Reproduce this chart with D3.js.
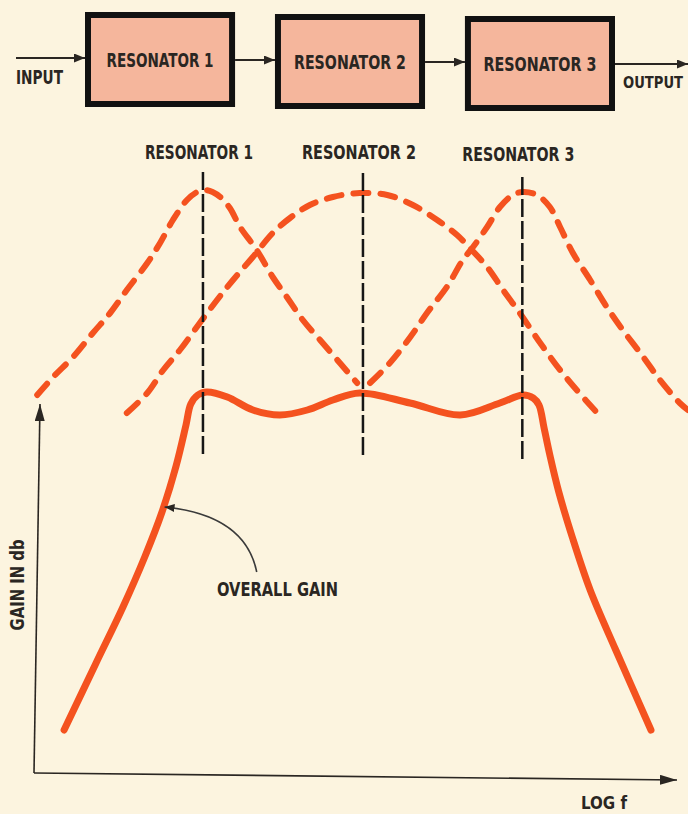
<!DOCTYPE html>
<html>
<head>
<meta charset="utf-8">
<script src="https://cdn.jsdelivr.net/npm/d3@7"></script>
<style>
  html, body { margin: 0; padding: 0; background: #fcf4df; }
  svg { display: block; }
  text { font-family: "Liberation Sans Narrow", "DejaVu Sans Condensed", "Roboto Condensed", "Liberation Sans", sans-serif; font-weight: bold; fill: #2a2622; }
</style>
</head>
<body>
<svg id="chart" width="688" height="814"></svg>
<script>
// ---------- data ----------
const blockNames = ["RESONATOR 1", "RESONATOR 2", "RESONATOR 3"];
const resonatorLabels = ["RESONATOR 1", "RESONATOR 2", "RESONATOR 3"];
const resonanceLogF = [26.4, 51.4, 76.3];
const guideTopGain = [60.1, 60.0, 59.6];
const guideBottomGain = [31.5, 31.8, 31.1];

const res1LogF = [0.5, 3.0, 6.1, 9.2, 11.9, 14.5, 17.7, 19.7, 21.7, 23.9, 25.5, 26.7, 27.9, 29.1, 30.6, 32.2, 34.8, 37.3, 39.5, 42.0, 44.7, 47.8, 50.5];
const res1Gain = [37.8, 39.6, 41.6, 44.0, 46.0, 48.3, 51.0, 53.0, 55.3, 57.3, 58.1, 58.3, 58.1, 57.6, 56.5, 54.6, 52.3, 49.6, 47.6, 45.3, 43.3, 41.0, 39.0];

const res2LogF = [14.5, 17.7, 20.2, 22.8, 25.9, 28.6, 31.1, 34.2, 37.3, 40.0, 43.1, 46.7, 50.9, 55.2, 59.2, 63.0, 66.1, 68.1, 70.8, 73.3, 75.9, 79.1, 82.2, 84.8, 88.0];
const res2Gain = [36.0, 38.0, 40.3, 42.3, 45.0, 47.3, 49.3, 51.6, 54.0, 55.5, 56.8, 57.6, 58.0, 57.8, 56.8, 55.3, 53.8, 52.5, 50.6, 48.3, 46.0, 43.0, 40.3, 38.3, 36.0];

const res3LogF = [52.5, 55.6, 58.8, 61.4, 64.5, 67.0, 68.6, 70.8, 72.8, 74.8, 76.4, 78.6, 80.6, 82.2, 84.2, 86.9, 89.5, 92.0, 95.2, 97.8, 100.9, 102.2];
const res3Gain = [39.0, 41.0, 43.6, 46.0, 48.6, 51.3, 52.6, 54.6, 56.6, 57.8, 58.1, 57.8, 56.6, 54.6, 52.0, 49.3, 46.6, 44.3, 41.6, 39.3, 37.0, 36.3];

const overallLogF = [4.7, 9.7, 13.9, 17.3, 20.0, 22.2, 23.75, 24.5, 25.6, 27.0, 30.2, 34.2, 38.4, 42.7, 46.7, 50.9, 58.75, 66.6, 72.8, 76.4, 78.0, 78.9, 79.7, 80.6, 82.0, 84.1, 86.9, 90.9, 96.4];
const overallGain = [4.3, 11.0, 16.6, 21.6, 26.1, 30.7, 34.8, 36.9, 37.8, 38.1, 37.6, 36.3, 35.8, 36.3, 37.3, 38.0, 37.0, 35.8, 37.0, 37.8, 37.5, 36.8, 34.5, 31.8, 28.1, 23.6, 18.3, 12.3, 4.3];

// ---------- setup ----------
const svg = d3.select("#chart");
const W = 688, H = 814;
const orange = "#f4521f";
const ink = "#2a2622";

svg.append("rect").attr("width", W).attr("height", H).attr("fill", "#fcf4df");

const x = d3.scaleLinear().domain([0, 100]).range([34, 674]);
const y = d3.scaleLinear().domain([0, 60]).range([773, 173]);

const defs = svg.append("defs");
function marker(id, len, wid) {
  defs.append("marker")
    .attr("id", id)
    .attr("markerUnits", "userSpaceOnUse")
    .attr("viewBox", `0 ${-wid / 2} ${len} ${wid}`)
    .attr("refX", len).attr("refY", 0)
    .attr("markerWidth", len).attr("markerHeight", wid)
    .attr("orient", "auto")
    .append("path")
    .attr("d", `M0,${-wid / 2}L${len},0L0,${wid / 2}Z`)
    .attr("fill", ink);
}
marker("arrSmall", 11, 9);
marker("arrAxis", 17, 10);
marker("arrNote", 10, 8);

// ---------- block diagram ----------
const band = d3.scaleBand().domain(blockNames).range([85, 615]).paddingInner(0.21);
const bw = band.bandwidth();
const boxTop = i => 12 + 2 * i;
const boxH = 95;
const sw = 6;
const boxLabelLen = [107, 112, 113];

const blocks = svg.append("g");
blockNames.forEach((name, i) => {
  blocks.append("rect")
    .attr("x", band(name) + sw / 2).attr("y", boxTop(i) + sw / 2)
    .attr("width", bw - sw).attr("height", boxH - sw)
    .attr("fill", "#f5b69c").attr("stroke", "#111").attr("stroke-width", sw);
  blocks.append("text")
    .attr("x", band(name) + bw / 2).attr("y", boxTop(i) + boxH / 2 + 7.5)
    .attr("text-anchor", "middle")
    .attr("font-size", 19)
    .attr("textLength", boxLabelLen[i]).attr("lengthAdjust", "spacingAndGlyphs")
    .text(name);
});

// connectors
const conn = [
  [16, 85, 58],
  [band(blockNames[0]) + bw, band(blockNames[1]), 60],
  [band(blockNames[1]) + bw, band(blockNames[2]), 62],
  [band(blockNames[2]) + bw, 688, 64]
];
conn.forEach(([x1, x2, yy]) => {
  blocks.append("line")
    .attr("x1", x1).attr("x2", x2).attr("y1", yy).attr("y2", yy)
    .attr("stroke", ink).attr("stroke-width", 2)
    .attr("marker-end", "url(#arrSmall)");
});
blocks.append("text").attr("x", 16).attr("y", 84).attr("font-size", 19)
  .attr("textLength", 47).attr("lengthAdjust", "spacingAndGlyphs").text("INPUT");
blocks.append("text").attr("x", 623).attr("y", 88).attr("font-size", 16)
  .attr("textLength", 60).attr("lengthAdjust", "spacingAndGlyphs").text("OUTPUT");

// ---------- chart ----------
const line = d3.line().x(d => x(d[0])).y(d => y(d[1])).curve(d3.curveCatmullRom.alpha(0.5));
const zip = (a, b) => a.map((v, i) => [v, b[i]]);

// axes (slightly skewed as in the print)
const axisG = svg.append("g");
axisG.append("path")
  .attr("d", d3.line()([[x(0), y(0)], [x(0) + 6, y(36.9)]]))
  .attr("stroke", ink).attr("stroke-width", 1.6).attr("fill", "none")
  .attr("marker-end", "url(#arrAxis)");
axisG.append("path")
  .attr("d", d3.line()([[x(0), y(0)], [x(100) + 3, y(0) + 7]]))
  .attr("stroke", ink).attr("stroke-width", 1.6).attr("fill", "none")
  .attr("marker-end", "url(#arrAxis)");

// resonator individual responses (dashed)
const dashG = svg.append("g");
[[res1LogF, res1Gain], [res2LogF, res2Gain], [res3LogF, res3Gain]].forEach(([a, b]) => {
  dashG.append("path")
    .attr("d", line(zip(a, b)))
    .attr("fill", "none").attr("stroke", orange).attr("stroke-width", 6)
    .attr("stroke-linecap", "round")
    .attr("stroke-dasharray", "15,12");
});

// overall gain
svg.append("path")
  .attr("d", line(zip(overallLogF, overallGain)))
  .attr("fill", "none").attr("stroke", orange).attr("stroke-width", 7)
  .attr("stroke-linecap", "round").attr("stroke-linejoin", "round");

// resonance guide lines
const guideG = svg.append("g");
resonanceLogF.forEach((f, i) => {
  guideG.append("line")
    .attr("x1", x(f)).attr("x2", x(f))
    .attr("y1", y(guideTopGain[i])).attr("y2", y(guideBottomGain[i]))
    .attr("stroke", "#161616").attr("stroke-width", 2.5)
    .attr("stroke-dasharray", "18,4");
  guideG.append("text")
    .attr("x", x(f) - 4).attr("y", 159 + (i === 2 ? 2 : 0))
    .attr("text-anchor", "middle").attr("font-size", 19)
    .attr("textLength", [108, 114, 112][i]).attr("lengthAdjust", "spacingAndGlyphs")
    .text(resonatorLabels[i]);
});

// annotation
const noteStart = [x(34.8), y(20.1)];
const noteEnd = [x(20.4), y(26.6)];
svg.append("path")
  .attr("d", `M${noteStart[0]},${noteStart[1]} Q${x(33.0)},${y(25.8)} ${noteEnd[0]},${noteEnd[1]}`)
  .attr("fill", "none").attr("stroke", "#3a3a3a").attr("stroke-width", 1.6)
  .attr("marker-end", "url(#arrNote)");
svg.append("text").attr("x", x(28.6)).attr("y", y(17.7)).attr("font-size", 19)
  .attr("textLength", 121).attr("lengthAdjust", "spacingAndGlyphs").text("OVERALL GAIN");

// axis titles
svg.append("text")
  .attr("transform", `translate(24,585) rotate(-90)`)
  .attr("text-anchor", "middle").attr("font-size", 19)
  .attr("textLength", 91).attr("lengthAdjust", "spacingAndGlyphs")
  .text("GAIN IN db");
svg.append("text").attr("x", 581).attr("y", 809).attr("font-size", 18)
  .attr("textLength", 46).attr("lengthAdjust", "spacingAndGlyphs").text("LOG f");
</script>
</body>
</html>
